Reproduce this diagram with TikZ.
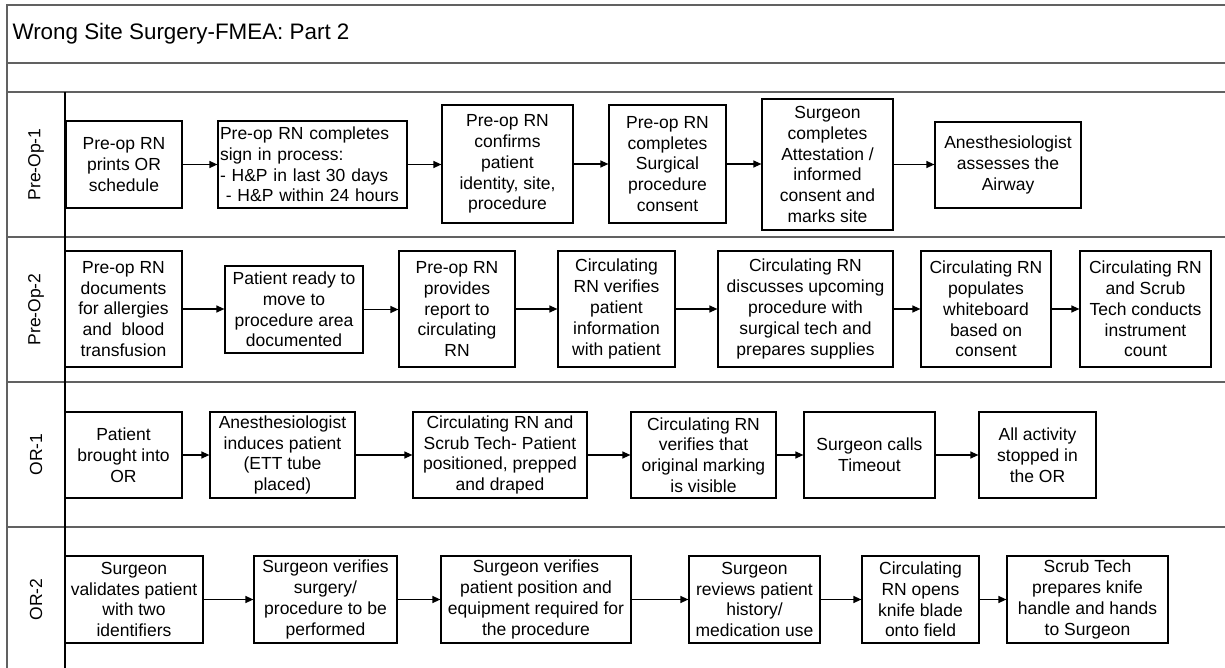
\documentclass[tikz,border=0pt]{standalone}
\usepackage{fontspec}
\setmainfont{Liberation Sans}
\usetikzlibrary{arrows.meta}

\tikzset{
  frameline/.style={draw=black!62, line width=2pt},
  laneline/.style={draw=black, line width=1.3pt},
  stepbox/.style={draw=black, line width=1.2pt, fill=white, align=center,
    inner sep=1pt, font=\fontsize{17.5}{20.8}\selectfont},
  lanelabel/.style={rotate=90, font=\fontsize{17.5}{20.8}\selectfont},
  flow/.style={draw=black, line width=1.2pt,
    -{Triangle[length=8pt,width=7pt]}}
}

% box from its pixel corners: name, x1, y1, x2, y2, text
\newcommand{\stepat}[6]{%
  \pgfmathsetmacro{\bw}{#4-#2}\pgfmathsetmacro{\bh}{#5-#3}%
  \pgfmathsetmacro{\bx}{(#2+#4)/2}\pgfmathsetmacro{\by}{(#3+#5)/2}%
  \node[stepbox, minimum width=\bw pt, minimum height=\bh pt] (#1) at (\bx,\by) {#6};}

\begin{document}
\begin{tikzpicture}[x=1pt, y=-1pt]
\useasboundingbox (0,0) rectangle (1225,668);
\fill[white] (0,0) rectangle (1225,668);

% frame and lanes
\draw[frameline] (1225,5) -- (7,5) -- (7,668);
\draw[frameline] (7,63) -- (1225,63);
\draw[frameline] (7,92) -- (1225,92);
\draw[frameline] (7,237) -- (1225,237);
\draw[frameline] (7,382) -- (1225,382);
\draw[frameline] (7,527) -- (1225,527);
\draw[laneline] (65,92) -- (65,668);

\node[anchor=west, font=\fontsize{22.4}{26}\selectfont] (title) at (9,34) {Wrong Site Surgery-FMEA: Part 2};

\node[lanelabel] (l1) at (36,164.5) {Pre-Op-1};
\node[lanelabel] (l2) at (36,309.5) {Pre-Op-2};
\node[lanelabel] (l3) at (36,454.5) {OR-1};
\node[lanelabel] (l4) at (36,599.5) {OR-2};

% Pre-Op-1
\stepat{pa}{66}{121}{182}{208}{Pre-op RN\\prints OR\\schedule}
\node[stepbox, align=left, minimum width=189pt, minimum height=87pt, text width=185pt] (pb) at (312.5,164.5)
  {Pre-op RN completes\\sign in process:\\- H\&P in last 30 days\\\ - H\&P within 24 hours};
\stepat{pc}{442}{105}{573}{223}{Pre-op RN\\confirms\\patient\\identity, site,\\procedure}
\stepat{pd}{609}{105}{726}{223}{Pre-op RN\\completes\\Surgical\\procedure\\consent}
\stepat{pe}{762}{99}{893}{230}{Surgeon\\completes\\Attestation /\\informed\\consent and\\marks site}
\stepat{pf}{935}{122}{1081}{208}{Anesthesiologist\\assesses the\\Airway}

% Pre-Op-2
\stepat{qa}{65}{251}{182}{367}{Pre-op RN\\documents\\for allergies\\and\ \ blood\\transfusion}
\stepat{qb}{225}{266}{363}{353}{Patient ready to\\move to\\procedure area\\documented}
\stepat{qc}{399}{251}{515}{367}{Pre-op RN\\provides\\report to\\circulating\\RN}
\stepat{qd}{558}{251}{675}{367}{Circulating\\RN verifies\\patient\\information\\with patient}
\stepat{qe}{718}{251}{893}{367}{Circulating RN\\discusses upcoming\\procedure with\\surgical tech and\\prepares supplies}
\stepat{qf}{921}{251}{1051}{367}{Circulating RN\\populates\\whiteboard\\based on\\consent}
\stepat{qg}{1080}{251}{1211}{367}{Circulating RN\\and Scrub\\Tech conducts\\instrument\\count}

% OR-1
\stepat{ra}{65}{412}{182}{498}{Patient\\brought into\\OR}
\stepat{rb}{210}{412}{355}{498}{Anesthesiologist\\induces patient\\(ETT tube\\placed)}
\stepat{rc}{413}{412}{587}{498}{Circulating RN and\\Scrub Tech- Patient\\positioned, prepped\\and draped}
\stepat{rd}{631}{412}{776}{498}{Circulating RN\\verifies that\\original marking\\is visible}
\stepat{re}{804}{412}{935}{498}{Surgeon calls\\Timeout}
\stepat{rf}{979}{412}{1096}{498}{All activity\\stopped in\\the OR}

% OR-2
\stepat{sa}{65}{556}{203}{643}{Surgeon\\validates patient\\with two\\identifiers}
\stepat{sb}{254}{556}{397}{643}{Surgeon verifies\\surgery/\\procedure to be\\performed}
\stepat{sc}{441}{556}{631}{643}{Surgeon verifies\\patient position and\\equipment required for\\the procedure}
\stepat{sd}{689}{556}{820}{643}{Surgeon\\reviews patient\\history/\\medication use}
\stepat{se}{862}{556}{979}{643}{Circulating\\RN opens\\knife blade\\onto field}
\stepat{sf}{1007}{556}{1168}{643}{Scrub Tech\\prepares knife\\handle and hands\\to Surgeon}

% connectors
\foreach \u/\v in {pa/pb,pb/pc,pc/pd,pd/pe,pe/pf,
                   qa/qb,qb/qc,qc/qd,qd/qe,qe/qf,qf/qg,
                   ra/rb,rb/rc,rc/rd,rd/re,re/rf,
                   sa/sb,sb/sc,sc/sd,sd/se,se/sf}
  \draw[flow] (\u.east) -- (\v.west |- \u.east);
\end{tikzpicture}
\end{document}
